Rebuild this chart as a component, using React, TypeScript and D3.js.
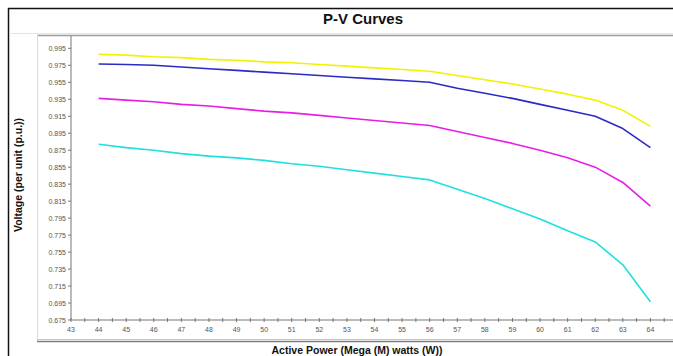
import React from 'react';
import * as d3 from 'd3';

// active power (MW)
const power = [44, 45, 46, 47, 48, 49, 50, 51, 52, 53, 54, 55, 56, 57, 58, 59, 60, 61, 62, 63, 64];

// voltage (p.u.) per curve
const yellowV = [0.988, 0.987, 0.985, 0.984, 0.982, 0.981, 0.979, 0.978, 0.976, 0.974, 0.972, 0.970, 0.968, 0.963, 0.958, 0.953, 0.947, 0.941, 0.934, 0.922, 0.903];
const blueV = [0.9765, 0.976, 0.975, 0.973, 0.971, 0.969, 0.967, 0.965, 0.963, 0.961, 0.959, 0.957, 0.955, 0.948, 0.942, 0.936, 0.929, 0.922, 0.915, 0.9005, 0.878];
const magentaV = [0.936, 0.934, 0.932, 0.929, 0.927, 0.924, 0.921, 0.919, 0.916, 0.913, 0.910, 0.907, 0.904, 0.897, 0.890, 0.883, 0.875, 0.866, 0.855, 0.837, 0.809];
const cyanV = [0.882, 0.878, 0.875, 0.871, 0.868, 0.866, 0.863, 0.859, 0.856, 0.852, 0.848, 0.844, 0.840, 0.829, 0.818, 0.806, 0.794, 0.780, 0.767, 0.740, 0.6965];

const xTicks = d3.range(43, 65, 1);
const yTicks = [0.675, 0.695, 0.715, 0.735, 0.755, 0.775, 0.795, 0.815, 0.835, 0.855, 0.875, 0.895, 0.915, 0.935, 0.955, 0.975, 0.995];

const series = [
  { name: 'yellow', values: yellowV, color: '#f2f200' },
  { name: 'blue', values: blueV, color: '#2a2ac8' },
  { name: 'magenta', values: magentaV, color: '#e61ee6' },
  { name: 'cyan', values: cyanV, color: '#1ee0e0' },
];

const W = 673;
const H = 356;
const plot = { left: 71, top: 36, right: 678, bottom: 320 };
const font = 'Arial, "Liberation Sans", sans-serif';

export default function App() {
  const x = d3.scaleLinear().domain([43, 65]).range([plot.left, plot.right]);
  const y = d3.scaleLinear().domain([0.675, 1.0095]).range([plot.bottom, plot.top]);

  const line = d3.line<number>()
    .x((_, i) => x(power[i]))
    .y(d => y(d));

  const minor = d3.range(43, 65.01, 0.5);

  return (
    <svg width={W} height={H} style={{ position: 'absolute', left: 0, top: 0, display: 'block' }}>
      <rect width={W} height={H} fill="#fff" />
      {/* outer frame */}
      <rect x={8.5} y={8.5} width={W + 10} height={H + 10} fill="none" stroke="#111" strokeWidth={1.5} />
      <text x={363} y={24} textAnchor="middle" fontFamily={font} fontWeight="bold" fontSize={15} fill="#111">P-V Curves</text>
      {/* title separator */}
      <line x1={9} x2={W} y1={33.5} y2={33.5} stroke="#e4e4e4" strokeWidth={1} />
      <line x1={37} x2={W} y1={35.5} y2={35.5} stroke="#9a9a9a" strokeWidth={1.5} />
      {/* inner panel */}
      <line x1={37.5} x2={37.5} y1={34} y2={341} stroke="#dcdcdc" strokeWidth={1} />
      <line x1={37} x2={W} y1={339.5} y2={339.5} stroke="#c8c8c8" strokeWidth={1} />
      <line x1={37} x2={W} y1={341.5} y2={341.5} stroke="#808080" strokeWidth={1.5} />

      {/* axes */}
      <line x1={plot.left} x2={plot.left} y1={plot.top} y2={plot.bottom} stroke="#777" strokeWidth={1} />
      <line x1={plot.left} x2={W} y1={plot.bottom} y2={plot.bottom} stroke="#777" strokeWidth={1} />

      {yTicks.map(t => (
        <g key={t}>
          <line x1={plot.left - 3} x2={plot.left} y1={y(t)} y2={y(t)} stroke="#777" />
          <text x={plot.left - 5} y={y(t) + 2.5} textAnchor="end" fontFamily={font} fontSize={7} fill="#555">{t.toFixed(3)}</text>
        </g>
      ))}
      {minor.map(t => (
        <line key={t} x1={x(t)} x2={x(t)} y1={plot.bottom - 2} y2={plot.bottom + 2} stroke="#777" />
      ))}
      {xTicks.map(t => (
        <text key={t} x={x(t)} y={332} textAnchor="middle" fontFamily={font} fontSize={7} fill="#555">{t}</text>
      ))}

      {series.map(s => (
        <path key={s.name} d={line(s.values) || ''} fill="none" stroke={s.color} strokeWidth={1.6} strokeLinejoin="round" />
      ))}

      <text x={357} y={354} textAnchor="middle" fontFamily={font} fontWeight="bold" fontSize={10.5} fill="#111">Active Power (Mega (M) watts (W))</text>
      <text transform="translate(22,175) rotate(-90)" textAnchor="middle" fontFamily={font} fontWeight="bold" fontSize={10.5} fill="#111">Voltage (per unit (p.u.))</text>
    </svg>
  );
}
